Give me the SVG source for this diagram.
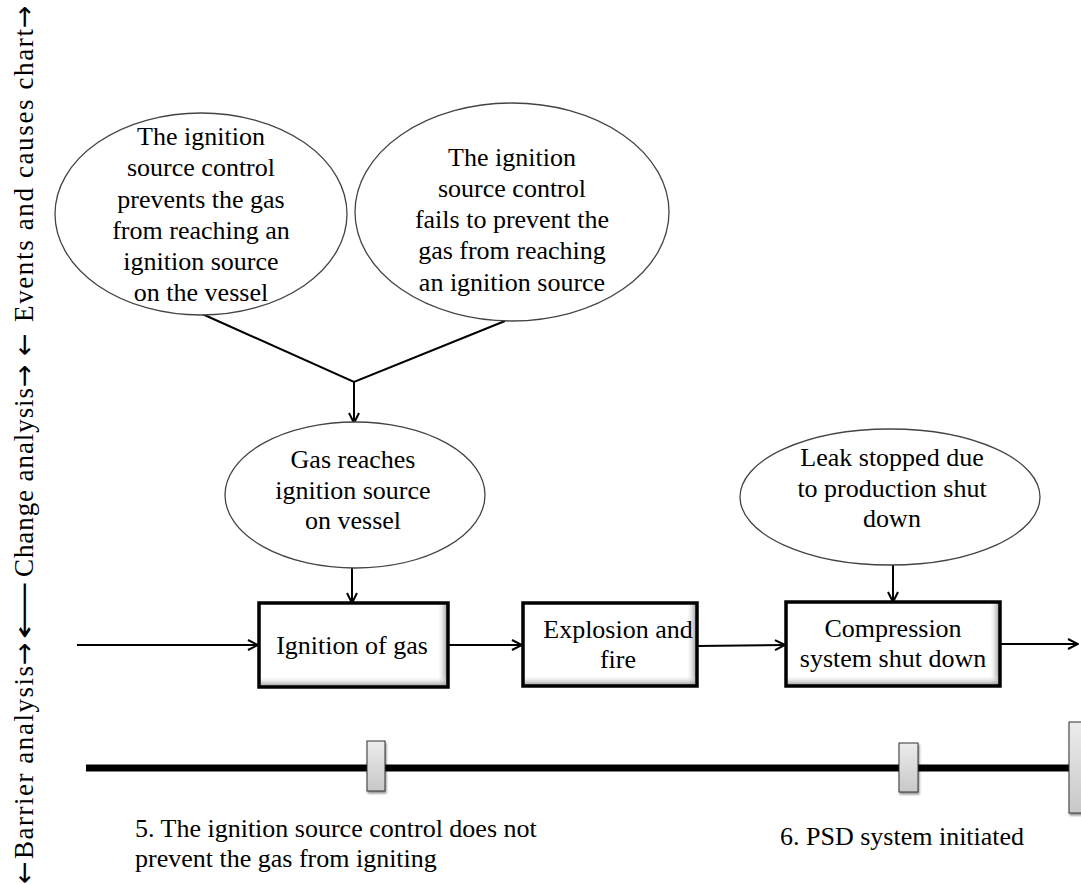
<svg xmlns="http://www.w3.org/2000/svg" width="1081" height="884" viewBox="0 0 1081 884">
  <defs>
    <style>
      text { font-family: "Liberation Serif", "Times New Roman", serif; font-size: 26px; fill: #000; }
      .c { text-anchor: middle; }
      .side { font-size: 27px; }
      .arr { font-family: "DejaVu Sans", sans-serif; font-size: 27px; }
      .oval { fill: #fff; stroke: #444; stroke-width: 1.3; }
      .box { fill: none; stroke: #000; stroke-width: 3.5; }
      .link { fill: none; stroke: #000; stroke-width: 2; }
      .barrier { fill: url(#barrierFill); stroke: #333; stroke-width: 1; filter: url(#dropShadow); }
    </style>
    <marker id="arrow" viewBox="0 0 12 12" refX="11" refY="6" markerWidth="12" markerHeight="12" markerUnits="userSpaceOnUse" orient="auto">
      <path d="M1,1 L11,6 L1,11" fill="none" stroke="#000" stroke-width="2"/>
    </marker>
    <linearGradient id="shadeR" x1="0" y1="0" x2="1" y2="0">
      <stop offset="0" stop-color="#fff" stop-opacity="0"/>
      <stop offset="1" stop-color="#8a8a8a"/>
    </linearGradient>
    <linearGradient id="shadeB" x1="0" y1="0" x2="0" y2="1">
      <stop offset="0" stop-color="#fff" stop-opacity="0"/>
      <stop offset="1" stop-color="#8a8a8a"/>
    </linearGradient>
    <linearGradient id="barrierFill" x1="0" y1="0" x2="0" y2="1">
      <stop offset="0" stop-color="#ececec"/>
      <stop offset="1" stop-color="#c8c8c8"/>
    </linearGradient>
    <filter id="dropShadow" x="-50%" y="-20%" width="200%" height="140%">
      <feGaussianBlur in="SourceAlpha" stdDeviation="1.2"/>
      <feOffset dx="1" dy="2"/>
      <feComponentTransfer><feFuncA type="linear" slope="0.45"/></feComponentTransfer>
      <feMerge><feMergeNode/><feMergeNode in="SourceGraphic"/></feMerge>
    </filter>
  </defs>

  <rect width="1081" height="884" fill="#fff"/>

  <!-- vertical section labels along the left margin (read bottom to top) -->
  <g id="section-labels" transform="rotate(-90)">
    <text class="arr" x="-884" y="33">←</text>
    <text class="side" x="-859" y="33" textLength="193" lengthAdjust="spacing">Barrier analysis</text>
    <text class="arr" x="-665" y="33">→</text>
    <text class="arr" x="-639" y="33" textLength="58" lengthAdjust="spacingAndGlyphs">⟵</text>
    <text class="side" x="-577" y="33" textLength="189" lengthAdjust="spacing">Change  analysis</text>
    <text class="arr" x="-387" y="33">→</text>
    <text class="arr" x="-356" y="33">←</text>
    <text class="side" x="-322" y="33" textLength="293" lengthAdjust="spacing">Events  and  causes chart</text>
    <text class="arr" x="-28" y="33">→</text>
  </g>

  <!-- connectors -->
  <g id="connectors">
    <polyline class="link" points="200,313 354,382 505,321"/>
    <line class="link" x1="354" y1="382" x2="354" y2="423" marker-end="url(#arrow)"/>
    <line class="link" x1="352" y1="568" x2="352" y2="603" marker-end="url(#arrow)"/>
    <line class="link" x1="893" y1="565" x2="893" y2="602" marker-end="url(#arrow)"/>
    <line class="link" x1="77" y1="645" x2="258" y2="645" marker-end="url(#arrow)"/>
    <line class="link" x1="448" y1="645" x2="522" y2="645" marker-end="url(#arrow)"/>
    <line class="link" x1="697" y1="646" x2="785" y2="645" marker-end="url(#arrow)"/>
    <line class="link" x1="1000" y1="644" x2="1078" y2="644" marker-end="url(#arrow)"/>
  </g>

  <!-- causal ovals -->
  <g id="oval-prevents">
    <ellipse class="oval" cx="201" cy="214" rx="146" ry="101"/>
    <text class="c" x="201" y="145">The ignition</text>
    <text class="c" x="201" y="176">source control</text>
    <text class="c" x="201" y="208">prevents the gas</text>
    <text class="c" x="201" y="239">from reaching an</text>
    <text class="c" x="201" y="270">ignition source</text>
    <text class="c" x="201" y="301">on the vessel</text>
  </g>

  <g id="oval-fails">
    <ellipse class="oval" cx="512" cy="212" rx="157" ry="109"/>
    <text class="c" x="512" y="166">The ignition</text>
    <text class="c" x="512" y="197">source control</text>
    <text class="c" x="512" y="228">fails to prevent the</text>
    <text class="c" x="512" y="259">gas from reaching</text>
    <text class="c" x="512" y="291">an ignition source</text>
  </g>

  <g id="oval-gas-reaches">
    <ellipse class="oval" cx="355" cy="495" rx="130" ry="73"/>
    <text class="c" x="353" y="468">Gas reaches</text>
    <text class="c" x="353" y="499">ignition source</text>
    <text class="c" x="353" y="529">on vessel</text>
  </g>

  <g id="oval-leak-stopped">
    <ellipse class="oval" cx="890" cy="497" rx="150" ry="68"/>
    <text class="c" x="892" y="466">Leak stopped due</text>
    <text class="c" x="892" y="497">to production shut</text>
    <text class="c" x="892" y="527">down</text>
  </g>

  <!-- event boxes -->
  <g id="box-ignition">
    <rect x="259" y="603" width="189" height="84" fill="#fff"/>
    <rect x="437" y="603" width="11" height="84" fill="url(#shadeR)"/>
    <rect x="259" y="676" width="189" height="11" fill="url(#shadeB)"/>
    <rect class="box" x="259" y="603" width="189" height="84"/>
    <text class="c" x="352" y="654">Ignition of gas</text>
  </g>

  <g id="box-explosion">
    <rect x="523" y="603" width="174" height="83" fill="#fff"/>
    <rect x="686" y="603" width="11" height="83" fill="url(#shadeR)"/>
    <rect x="523" y="675" width="174" height="11" fill="url(#shadeB)"/>
    <rect class="box" x="523" y="603" width="174" height="83"/>
    <text class="c" x="618" y="638">Explosion and</text>
    <text class="c" x="618" y="668">fire</text>
  </g>

  <g id="box-compression">
    <rect x="786" y="602" width="214" height="84" fill="#fff"/>
    <rect x="989" y="602" width="11" height="84" fill="url(#shadeR)"/>
    <rect x="786" y="675" width="214" height="11" fill="url(#shadeB)"/>
    <rect class="box" x="786" y="602" width="214" height="84"/>
    <text class="c" x="893" y="637">Compression</text>
    <text class="c" x="893" y="667">system shut down</text>
  </g>

  <!-- barrier timeline -->
  <g id="barrier-line">
    <line x1="86" y1="768" x2="1076" y2="768" stroke="#000" stroke-width="7"/>
    <rect class="barrier" x="367" y="741" width="18" height="50"/>
    <rect class="barrier" x="899" y="743" width="19" height="49"/>
    <rect class="barrier" x="1069" y="722" width="16" height="91"/>
  </g>

  <g id="barrier-labels">
    <text x="135" y="837">5. The ignition source control does not</text>
    <text x="135" y="867">prevent the gas from igniting</text>
    <text x="780" y="845">6. PSD system initiated</text>
  </g>
</svg>
